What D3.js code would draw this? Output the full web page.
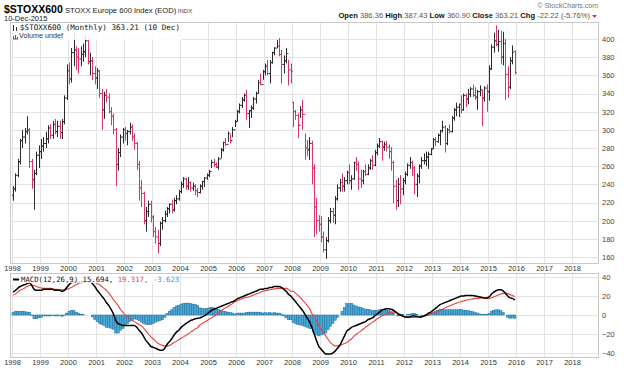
<!DOCTYPE html>
<html>
<head>
    <meta charset="utf-8">
    <title>$STOXX600 Monthly</title>
    <style>
        body { margin: 0; background: #fff; }
        svg { display: block; }
    </style>
</head>
<body>

<main></main>

<script src="https://cdn.jsdelivr.net/npm/d3@7/dist/d3.min.js"></script>
<script>

    // monthly OHLC, Jan 1998 .. Dec 2015 (one row per year)
    var opens = [
        228, 235, 250, 265, 288, 292, 298, 300, 265, 245, 252, 272,
        276, 282, 285, 290, 302, 294, 306, 298, 304, 297, 309, 335,
        365, 356, 385, 388, 380, 378, 383, 386, 398, 375, 376, 362,
        357, 365, 340, 322, 338, 336, 320, 315, 300, 262, 275, 292,
        300, 296, 298, 303, 292, 285, 262, 236, 230, 200, 210, 218,
        204, 188, 182, 175, 197, 200, 207, 213, 218, 212, 222, 224,
        232, 240, 246, 238, 242, 236, 238, 233, 231, 238, 243, 247,
        250, 254, 264, 262, 259, 268, 278, 286, 284, 296, 288, 300,
        309, 320, 327, 333, 338, 318, 321, 324, 334, 340, 352, 350,
        364, 370, 362, 374, 385, 390, 392, 383, 372, 376, 384, 366,
        330, 320, 316, 305, 322, 317, 280, 278, 285, 258, 215, 200,
        196, 182, 168, 178, 200, 210, 206, 224, 236, 242, 238, 244,
        253, 244, 246, 264, 262, 246, 244, 254, 251, 258, 266, 261,
        275, 282, 287, 281, 284, 281, 276, 264, 238, 222, 240, 235,
        244, 251, 261, 264, 258, 240, 249, 260, 266, 266, 270, 273,
        279, 289, 287, 294, 299, 303, 285, 300, 298, 313, 322, 325,
        328, 322, 338, 334, 339, 345, 338, 336, 342, 344, 335, 346,
        342, 367, 391, 398, 394, 397, 380, 395, 361, 347, 376, 386.36
    ];
    var highs = [
        238, 252, 268, 290, 300, 302, 315, 302, 268, 256, 276, 283,
        290, 292, 298, 305, 306, 310, 312, 310, 310, 312, 338, 372,
        374, 390, 407, 392, 390, 392, 395, 404, 400, 385, 380, 370,
        368, 366, 345, 342, 345, 340, 325, 318, 302, 280, 295, 302,
        303, 300, 308, 306, 296, 287, 266, 245, 232, 215, 222, 222,
        206, 193, 190, 199, 204, 211, 215, 219, 223, 225, 228, 234,
        243, 248, 247, 248, 243, 242, 240, 236, 240, 244, 248, 252,
        256, 267, 268, 264, 270, 280, 287, 291, 298, 295, 303, 311,
        322, 329, 336, 340, 344, 322, 327, 336, 342, 355, 362, 366,
        373, 377, 377, 386, 391, 399, 401, 388, 382, 390, 377, 373,
        331, 322, 318, 326, 333, 296, 289, 292, 288, 262, 225, 206,
        205, 188, 182, 204, 214, 214, 227, 240, 246, 252, 248, 255,
        262, 250, 265, 270, 265, 256, 256, 262, 262, 268, 272, 278,
        285, 291, 288, 287, 288, 284, 281, 266, 245, 247, 250, 247,
        254, 263, 270, 266, 260, 252, 262, 270, 274, 276, 276, 280,
        291, 292, 296, 300, 310, 305, 302, 306, 315, 324, 330, 329,
        338, 340, 340, 345, 347, 350, 347, 344, 349, 344, 348, 350,
        371, 394, 407, 415, 410, 409, 408, 400, 370, 380, 393, 387.43
    ];
    var lows = [
        222, 232, 248, 262, 280, 285, 295, 258, 235, 212, 250, 258,
        268, 276, 280, 285, 290, 290, 295, 292, 290, 290, 306, 333,
        350, 352, 370, 366, 362, 370, 375, 380, 372, 360, 355, 350,
        345, 335, 300, 312, 330, 318, 305, 295, 238, 255, 270, 285,
        288, 283, 295, 288, 278, 256, 222, 215, 196, 188, 204, 198,
        182, 175, 164, 172, 190, 198, 204, 208, 208, 210, 218, 222,
        230, 236, 234, 234, 232, 233, 228, 226, 230, 234, 237, 245,
        248, 258, 259, 258, 256, 269, 276, 282, 287, 285, 292, 303,
        309, 318, 324, 331, 311, 302, 313, 322, 329, 340, 349, 355,
        360, 360, 351, 373, 382, 390, 381, 351, 362, 373, 349, 351,
        303, 311, 291, 313, 300, 267, 271, 267, 240, 182, 185, 188,
        176, 165, 158, 176, 197, 198, 196, 222, 232, 232, 232, 240,
        240, 234, 245, 255, 234, 236, 240, 249, 250, 256, 256, 260,
        272, 280, 266, 277, 276, 268, 255, 219, 212, 215, 218, 228,
        240, 249, 257, 249, 229, 226, 241, 257, 262, 260, 257, 272,
        279, 282, 286, 283, 297, 275, 283, 296, 297, 310, 315, 314,
        318, 321, 325, 328, 336, 336, 333, 322, 337, 304, 331, 320,
        332, 366, 385, 392, 386, 372, 371, 333, 335, 345, 372, 360.90
    ];
    var closes = [
        235, 250, 265, 288, 292, 298, 300, 265, 245, 252, 272, 276,
        282, 285, 290, 302, 294, 306, 298, 304, 297, 309, 335, 365,
        356, 385, 388, 380, 378, 383, 386, 398, 375, 376, 362, 357,
        365, 340, 322, 338, 336, 320, 315, 300, 262, 275, 292, 300,
        296, 298, 303, 292, 285, 262, 236, 230, 200, 210, 218, 204,
        188, 182, 175, 197, 200, 207, 213, 218, 212, 222, 224, 232,
        240, 246, 238, 242, 236, 238, 233, 231, 238, 243, 247, 250,
        254, 264, 262, 259, 268, 278, 286, 284, 296, 288, 300, 309,
        320, 327, 333, 338, 318, 321, 324, 334, 340, 352, 350, 364,
        370, 362, 374, 385, 390, 392, 383, 372, 376, 384, 366, 364,
        320, 316, 305, 322, 317, 280, 278, 285, 258, 215, 200, 196,
        182, 168, 178, 200, 210, 206, 224, 236, 242, 238, 244, 253,
        244, 246, 264, 262, 246, 244, 254, 251, 258, 266, 261, 275,
        282, 287, 281, 284, 281, 276, 264, 238, 222, 240, 235, 244,
        251, 261, 264, 258, 240, 249, 260, 266, 266, 270, 273, 279,
        289, 287, 294, 299, 303, 285, 300, 298, 313, 322, 325, 328,
        322, 338, 334, 339, 345, 338, 336, 342, 344, 335, 346, 342,
        367, 391, 398, 394, 397, 380, 395, 361, 347, 376, 385.43, 363.21
    ];

    // MACD(12,26,9)
    var macdLine = [
        24, 26, 28, 30, 31, 32, 33, 34, 31, 27, 26, 26,
        26, 27, 27, 27, 27, 27, 26, 26, 26, 25, 26, 29,
        32, 34, 35, 35, 35, 35, 35, 35, 35, 35, 33, 30,
        26, 23, 20, 17, 13, 10, 6, 1, -6, -9, -10, -11,
        -11, -11, -11, -11, -11, -13, -16, -19, -23, -27, -30, -33,
        -34, -35, -36, -37, -37, -35, -31, -28, -25, -21, -18, -16,
        -13, -11, -9, -7.5, -6, -5, -4, -3.5, -3, -2, -1, 1,
        3, 5, 6, 7, 8, 9, 10, 11, 12, 13, 14, 15,
        17, 18, 19, 20, 21, 22, 23, 24, 25, 26, 27, 27,
        28, 28, 29, 29, 30, 30, 30, 29, 27, 25, 22, 20,
        17, 14, 11, 8, 5, 1, -3, -7, -13, -20, -27, -33,
        -36, -39, -41, -41, -41, -40, -38, -35, -32, -27, -22, -17,
        -15, -13, -12, -11, -10, -9, -8, -7, -5, -4, -3, -1,
        1, 3, 5, 6, 6.5, 6.5, 6, 5, 3, 1, 0, -1,
        -2, -2, -2, -1, -1, -1.5, -2, -2, -1, 0, 2, 3,
        5, 7, 9, 11, 12, 13, 14, 15, 16, 17, 18, 19,
        20, 20, 20.5, 20.5, 20.5, 20.5, 20, 19.5, 19, 18.5, 18, 18,
        19, 22, 24, 25.5, 26.5, 26.5, 25.5, 23, 20, 18, 17.5, 15.694
    ];
    var signalLine = [
        21, 22, 24, 26, 27, 28.5, 30, 31, 31.5, 31, 30, 29,
        28.5, 28, 28, 28, 28, 27.5, 27, 27, 26.7, 26.5, 26.5, 27,
        28, 29, 30.5, 32, 33, 34, 34.5, 35, 35, 35, 35, 34.5,
        33, 32, 30, 28, 26, 23, 20, 16, 13, 10, 6, 3,
        0, -2, -4, -5.5, -7, -8.5, -10, -11.5, -14, -17, -20, -23,
        -25, -27.5, -29.5, -31, -32, -32.5, -32.5, -32, -30.5, -29, -27.5, -26,
        -24.5, -23, -21.5, -20, -18, -16.5, -15, -13.5, -10.5, -9, -7.5, -6,
        -4.5, -3, -1.5, 0.5, 2, 4, 6, 7.5, 9, 10.5, 12, 14,
        15, 16, 17, 18, 18.5, 19, 20, 21, 22, 23, 24, 25,
        25.5, 26, 26.5, 27, 27.5, 28, 28, 28, 28, 28, 27, 25,
        25, 23, 21, 18.5, 16, 13, 10, 7, 1.5, -1.5, -6, -11,
        -15, -19, -22, -25.5, -29, -31, -32.5, -32.5, -32, -31, -30, -29,
        -27, -25, -22.5, -20.5, -18.5, -17, -15, -13, -11, -9.5, -7.5, -6,
        -4, -2.5, -1, 0, 1.2, 2, 2.5, 3, 3, 2, 0.5, -1.5,
        -2, -2.3, -2.5, -2.5, -2.5, -2.3, -2, -1.5, -1, -0.5, 0, 1,
        2, 3, 4, 5, 6, 7.5, 8.5, 9.5, 10.5, 11.5, 12.5, 13.5,
        14, 15, 15.5, 16, 16.5, 17, 17.5, 17.5, 18, 18, 17.5, 17.3,
        17.3, 18, 19, 20, 21, 22, 22.8, 23, 22.5, 21.5, 20.5, 19.317
    ];

    var priceTicks = [160, 180, 200, 220, 240, 260, 280, 300, 320, 340, 360, 380, 400];
    var macdTicks = [-40, -20, 0, 20, 40];
    var yearTicks = d3.range(1998, 2019);

    var months = d3.timeMonth.range(new Date(1998, 0, 1), new Date(2016, 0, 1));
    var bars = months.map(function (m, i) {
        return {date: m, o: opens[i], h: highs[i], l: lows[i], c: closes[i],
                up: i === 0 ? closes[i] >= opens[i] : closes[i] >= closes[i - 1],
                macd: macdLine[i], signal: signalLine[i]};
    });

    var width = 624, height = 370;
    var upColor = "#2a2a2a", downColor = "#d8336a";
    var gridColor = "#e3e3e3", frameColor = "#c8c8c8";
    var sans = "Arial, 'Liberation Sans', sans-serif";
    var mono = "'DejaVu Sans Mono', monospace";

    var svg = d3.select("main").append("svg")
        .attr("width", width)
        .attr("height", height);

    var plotLeft = 10, plotRight = 598;
    var price = {top: 22, bottom: 263};
    var lower = {top: 273, bottom: 357};

    var x = d3.scaleTime()
        .domain([new Date(1998, 0, 1), new Date(2018, 0, 1)])
        .range([12, 572]);
    var yPrice = d3.scaleLinear().domain([160, 400]).range([257, 39]);
    var yMacd = d3.scaleLinear().domain([-40, 40]).range([353, 277]);

    function barX(d) {
        return Math.round(x(d.date)) + 0.5 + 1;
    }

    // ---- panels: background grid + frame
    function panel(p, yScale, ticks) {
        var g = svg.append("g");
        g.selectAll("line.h").data(ticks).enter().append("line")
            .attr("x1", plotLeft).attr("x2", plotRight)
            .attr("y1", function (d) { return Math.round(yScale(d)) + 0.5; })
            .attr("y2", function (d) { return Math.round(yScale(d)) + 0.5; })
            .attr("stroke", gridColor);
        g.selectAll("line.v").data(yearTicks).enter().append("line")
            .attr("x1", function (d) { return Math.round(x(new Date(d, 0, 1))) + 0.5; })
            .attr("x2", function (d) { return Math.round(x(new Date(d, 0, 1))) + 0.5; })
            .attr("y1", p.top).attr("y2", p.bottom)
            .attr("stroke", gridColor);
        g.append("rect")
            .attr("x", plotLeft + 0.5).attr("y", p.top + 0.5)
            .attr("width", plotRight - plotLeft).attr("height", p.bottom - p.top)
            .attr("fill", "none").attr("stroke", frameColor);

        // right axis
        var axis = d3.axisRight(yScale).tickValues(ticks).tickSize(0).tickPadding(4);
        var ag = svg.append("g")
            .attr("transform", "translate(" + plotRight + ",0)")
            .call(axis);
        ag.select(".domain").remove();
        ag.selectAll("text").attr("font-family", sans).attr("font-size", "7.5px").attr("fill", "#444");

        // year labels under the panel
        var xa = d3.axisBottom(x)
            .tickValues(yearTicks.map(function (d) { return new Date(d, 0, 1); }))
            .tickFormat(d3.timeFormat("%Y"))
            .tickSize(0).tickPadding(3);
        var xg = svg.append("g")
            .attr("transform", "translate(0," + p.bottom + ")")
            .call(xa);
        xg.select(".domain").remove();
        xg.selectAll("text").attr("font-family", sans).attr("font-size", "7.5px").attr("fill", "#333");
    }

    panel(price, yPrice, priceTicks);
    panel(lower, yMacd, macdTicks);

    // ---- OHLC bars
    var ohlc = svg.append("g").attr("fill", "none").attr("stroke-width", 1);
    var bar = ohlc.selectAll("g").data(bars).enter().append("g")
        .attr("stroke", function (d) { return d.up ? upColor : downColor; });
    bar.append("line")
        .attr("x1", barX).attr("x2", barX)
        .attr("y1", function (d) { return yPrice(d.h); })
        .attr("y2", function (d) { return yPrice(d.l); });
    bar.append("line")
        .attr("x1", function (d) { return barX(d) - 1.5; }).attr("x2", barX)
        .attr("y1", function (d) { return yPrice(d.o); })
        .attr("y2", function (d) { return yPrice(d.o); });
    bar.append("line")
        .attr("x1", barX).attr("x2", function (d) { return barX(d) + 1.5; })
        .attr("y1", function (d) { return yPrice(d.c); })
        .attr("y2", function (d) { return yPrice(d.c); });

    // ---- MACD histogram + lines
    var step = x(new Date(1998, 1, 1)) - x(new Date(1998, 0, 1));
    svg.append("g").selectAll("rect").data(bars).enter().append("rect")
        .attr("x", function (d) { return x(d.date); })
        .attr("width", step)
        .attr("y", function (d) { return Math.min(yMacd(d.macd - d.signal), yMacd(0)); })
        .attr("height", function (d) { return Math.abs(yMacd(d.macd - d.signal) - yMacd(0)); })
        .attr("fill", "#4ea8d6")
        .attr("stroke", "#1d6f9c")
        .attr("stroke-width", 0.5);

    var lineSig = d3.line()
        .x(function (d) { return x(d.date) + step / 2; })
        .y(function (d) { return yMacd(d.signal); })
        .curve(d3.curveMonotoneX);
    var lineMacd = d3.line()
        .x(function (d) { return x(d.date) + step / 2; })
        .y(function (d) { return yMacd(d.macd); })
        .curve(d3.curveMonotoneX);
    svg.append("path").datum(bars).attr("d", lineSig)
        .attr("fill", "none").attr("stroke", "#e8413c").attr("stroke-width", 1.1);
    svg.append("path").datum(bars).attr("d", lineMacd)
        .attr("fill", "none").attr("stroke", "#000").attr("stroke-width", 1.5);

    // ---- legends inside panels
    svg.append("rect").attr("x", 12).attr("y", 23).attr("width", 170).attr("height", 17).attr("fill", "#fff").attr("opacity", 0.85);
    svg.append("text").attr("x", 20).attr("y", 30)
        .attr("font-family", mono).attr("font-size", "7.6px").attr("fill", "#111")
        .text("$STOXX600 (Monthly) 363.21 (10 Dec)");
    svg.append("path").attr("d", "M13.5,25v6M16.5,27v4").attr("stroke", "#333");
    svg.append("path").attr("d", "M13,39h5M13.5,39v-3M15.5,39v-4M17.5,39v-2").attr("stroke", "#555");
    svg.append("text").attr("x", 19).attr("y", 38)
        .attr("font-family", sans).attr("font-size", "7.2px").attr("fill", "#333")
        .text("Volume undef");

    svg.append("rect").attr("x", 12).attr("y", 274).attr("width", 165).attr("height", 9).attr("fill", "#fff").attr("opacity", 0.85);
    svg.append("line").attr("x1", 13).attr("x2", 19).attr("y1", 279.5).attr("y2", 279.5)
        .attr("stroke", "#000").attr("stroke-width", 2);
    var ml = svg.append("text").attr("x", 21).attr("y", 282)
        .attr("font-family", mono).attr("font-size", "7.3px");
    ml.append("tspan").attr("fill", "#111").text("MACD(12,26,9) 15.694,");
    ml.append("tspan").attr("fill", "#e8413c").text(" 19.317,");
    ml.append("tspan").attr("fill", "#3a9ad0").text(" -3.623");

    // ---- header
    var head = svg.append("text").attr("x", 4).attr("y", 13).attr("font-family", sans);
    head.append("tspan").attr("font-weight", "bold").attr("font-size", "10.5px").attr("fill", "#000").text("$STOXX600");
    head.append("tspan").attr("font-size", "7.6px").attr("fill", "#222").text(" STOXX Europe 600 Index (EOD)");
    head.append("tspan").attr("font-size", "6px").attr("fill", "#444").text(" INDX");
    svg.append("text").attr("x", 4).attr("y", 21)
        .attr("font-family", sans).attr("font-size", "7.5px").attr("fill", "#222")
        .text("10-Dec-2015");

    svg.append("text").attr("x", 598).attr("y", 8).attr("text-anchor", "end")
        .attr("font-family", sans).attr("font-size", "7px").attr("fill", "#777")
        .text("\u00a9 StockCharts.com");

    var quote = [["Open", "386.36"], ["High", "387.43"], ["Low", "360.90"], ["Close", "363.21"], ["Chg", "-22.22 (-5.76%)"]];
    var qt = svg.append("text").attr("x", 590).attr("y", 18).attr("text-anchor", "end")
        .attr("font-family", sans).attr("font-size", "7.6px");
    quote.forEach(function (q, i) {
        qt.append("tspan").attr("font-weight", "bold").attr("fill", "#111").text((i ? "  " : "") + q[0] + " ");
        qt.append("tspan").attr("fill", "#555").text(q[1]);
    });
    svg.append("path").attr("d", "M592,15h5l-2.5,3z").attr("fill", "#d8336a");

</script>
</body>
</html>
